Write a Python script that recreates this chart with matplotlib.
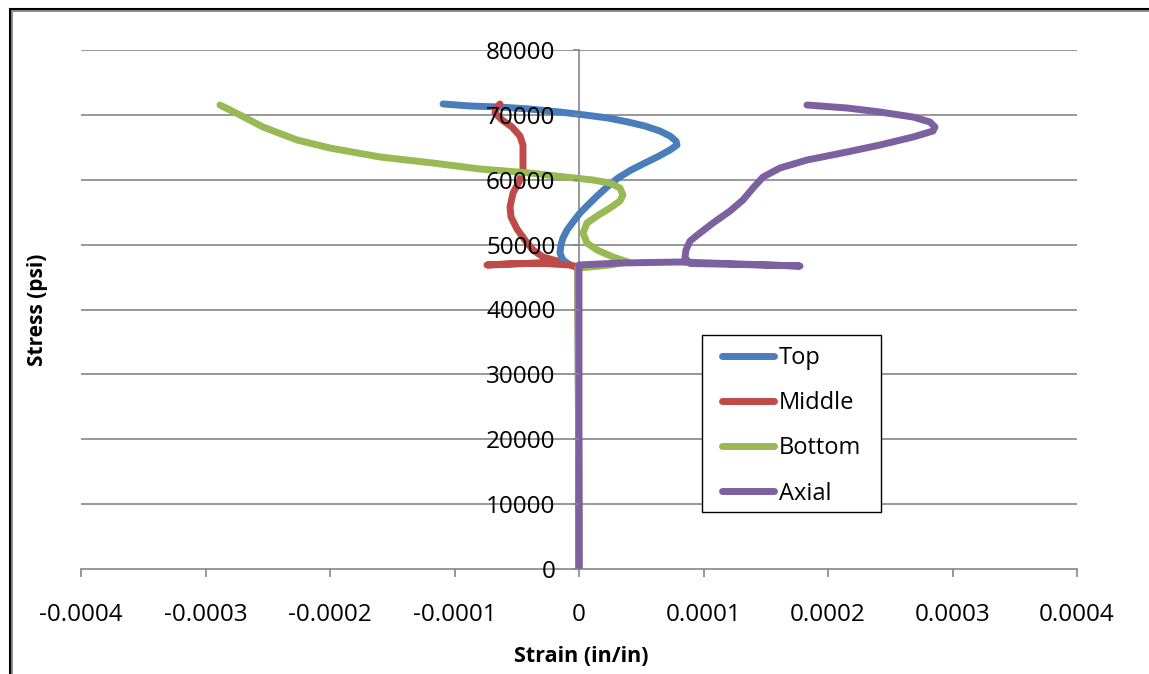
import matplotlib
matplotlib.use("Agg")
import matplotlib.pyplot as plt
from matplotlib.lines import Line2D
from matplotlib.patches import Rectangle
from matplotlib.legend_handler import HandlerLine2D

plt.rcParams['font.family'] = ['Open Sans', 'DejaVu Sans']

# Strain gauge readings (strain in in/in, stress in psi)
top_strain = [0.0, -0.0000008, -0.0000072, -0.0000129, -0.0000153, -0.0000145, -0.0000129,
              -0.0000096, -0.0000048, 0.0000008, 0.0000072, 0.0000145, 0.0000225,
              0.0000313, 0.0000418, 0.000053, 0.0000643, 0.0000731, 0.0000787,
              0.0000779, 0.0000731, 0.000065, 0.000053, 0.0000394, 0.0000233,
              0.0000048, -0.0000153, -0.0000394, -0.0000635, -0.0000875, -0.0001092]
top_stress = [0, 46400, 46860, 47630, 48710, 49940, 51020,
              52250, 53490, 54870, 56110, 57490, 58880,
              60270, 61500, 62580, 63660, 64590, 65360,
              65970, 66740, 67510, 68280, 68900, 69520,
              69980, 70440, 70900, 71210, 71370, 71680]

middle_strain = [0.0, -0.0000008, -0.0000072, -0.0000273, -0.0000514, -0.0000739,
                 -0.0000514, -0.0000273, -0.0000177, -0.0000289, -0.0000369, -0.0000434,
                 -0.0000498, -0.0000546, -0.0000554, -0.000053, -0.0000482, -0.000045,
                 -0.000045, -0.000045, -0.0000474, -0.0000538, -0.0000618, -0.0000675,
                 -0.0000659, -0.0000635]
middle_stress = [0, 46550, 46860, 47090, 47090, 46860,
                 47010, 47240, 47480, 48090, 49170, 50710,
                 52410, 54260, 55800, 57960, 59650, 61500,
                 63510, 65360, 66740, 68130, 69210, 70290,
                 71210, 71680]

bottom_strain = [0.0, -0.0000008, 0.0000088, 0.0000249, 0.0000394, 0.0000273, 0.0000145,
                 0.0000064, 0.0000032, 0.0000064, 0.0000145, 0.0000249, 0.0000329,
                 0.0000353, 0.0000329, 0.0000249, 0.0000112, -0.0000112, -0.0000394,
                 -0.0000795, -0.0001173, -0.0001598, -0.0002, -0.0002265, -0.0002538,
                 -0.0002723, -0.0002884]
bottom_stress = [0, 46400, 46550, 46860, 47320, 48090, 49170,
                 50250, 51790, 53330, 54410, 55640, 56720,
                 57650, 58730, 59500, 59960, 60420, 61040,
                 61660, 62580, 63510, 64890, 66130, 68130,
                 69980, 71520]

axial_strain = [0.0, 0.0, 0.0000329, 0.0000811, 0.0001293, 0.0001775, 0.0001293,
                0.0000892, 0.0000851, 0.0000859, 0.0000892, 0.0000972, 0.0001076,
                0.0001213, 0.0001317, 0.0001398, 0.0001478, 0.0001614, 0.0001831,
                0.0002153, 0.0002418, 0.0002683, 0.0002843, 0.0002859, 0.0002819,
                0.0002683, 0.0002418, 0.0002153, 0.0001831]
axial_stress = [0, 46860, 47170, 47320, 47010, 46700, 46940,
                47090, 47940, 49170, 50560, 51790, 53330,
                55180, 56880, 58730, 60420, 61810, 63040,
                64280, 65360, 66590, 67510, 68130, 68900,
                69670, 70440, 71060, 71520]

series_names = ['Top', 'Middle', 'Bottom', 'Axial']
series_colors = ['#4A7EBB', '#BE4B48', '#98B954', '#7D60A0']

x_ticks = [-0.0004, -0.0003, -0.0002, -0.0001, 0, 0.0001, 0.0002, 0.0003, 0.0004]
x_tick_labels = ['-0.0004', '-0.0003', '-0.0002', '-0.0001', '0',
                 '0.0001', '0.0002', '0.0003', '0.0004']
y_ticks = [0, 10000, 20000, 30000, 40000, 50000, 60000, 70000, 80000]
y_tick_labels = ['0', '10000', '20000', '30000', '40000', '50000', '60000', '70000', '80000']

W, H = 1149, 674
fig = plt.figure(figsize=(W / 100, H / 100), dpi=100)
ax = fig.add_axes([81 / W, 1 - 569 / H, (1077 - 81) / W, (569 - 50) / H])

axis_gray = '#868686'

# Horizontal gridlines sit underneath the curves
for yv in y_ticks[1:]:
    ax.axhline(yv, color=axis_gray, lw=1.2, zorder=0.4)

xs = [top_strain, middle_strain, bottom_strain, axial_strain]
ys = [top_stress, middle_stress, bottom_stress, axial_stress]
for x, y, name, c in zip(xs, ys, series_names, series_colors):
    ax.plot(x, y, color=c, lw=5.0, label=name, solid_capstyle='round',
            solid_joinstyle='round', zorder=2)

ax.set_xlim(-0.0004, 0.0004)
ax.set_ylim(0, 80000)
ax.set_xticks(x_ticks)
ax.set_xticklabels(x_tick_labels)
ax.set_yticks(y_ticks)
ax.set_yticklabels(y_tick_labels)

ax.spines['left'].set_position(('data', 0))
for s in ['top', 'right']:
    ax.spines[s].set_visible(False)
for s in ['left', 'bottom']:
    ax.spines[s].set_color(axis_gray)
    ax.spines[s].set_linewidth(1.2)
    ax.spines[s].set_zorder(0.5)

# Tick labels are drawn over the curves
ax.xaxis.set_zorder(3)
ax.yaxis.set_zorder(3)
ax.tick_params(axis='x', direction='out', length=5.5, width=1.2, color=axis_gray,
               pad=19, labelsize=17.5)
ax.tick_params(axis='y', direction='out', length=4, width=1.2, color=axis_gray,
               pad=13, labelsize=17.5)

# Legend box
ax.add_patch(Rectangle((702 / W, 1 - 512 / H), 179 / W, 177 / H, transform=fig.transFigure,
                       facecolor='white', edgecolor='black', lw=1.0, zorder=4,
                       clip_on=False))
leg = ax.legend(loc='upper left', bbox_to_anchor=(722 / W, 1 - 346 / H),
                bbox_transform=fig.transFigure, fontsize=17, frameon=False,
                handlelength=2.2, handletextpad=0.22, labelspacing=0.9,
                borderpad=0, borderaxespad=0,
                handler_map={Line2D: HandlerLine2D()})
leg.set_zorder(5)
for h in leg.get_lines():
    h.set_linewidth(5.0)
    h.set_solid_capstyle('round')

fig.text(37 / W, 1 - 310 / H, 'Stress (psi)', rotation=90, ha='center', va='center',
         fontsize=15, fontweight='bold')
fig.text(581 / W, 1 - 656 / H, 'Strain (in/in)', ha='center', va='center',
         fontsize=15.5, fontweight='bold')

# Window-style frame on the left and top edges
fig.add_artist(Line2D([9.5 / W, 9.5 / W], [0, 1 - 8.5 / H], color='black', lw=2.2,
                      transform=fig.transFigure))
fig.add_artist(Line2D([9.5 / W, 1], [1 - 8.5 / H, 1 - 8.5 / H], color='black', lw=2.2,
                      transform=fig.transFigure))
fig.add_artist(Line2D([12 / W, 12 / W], [0, 1 - 11 / H], color='#8a8a8a', lw=1.4,
                      transform=fig.transFigure))
fig.add_artist(Line2D([12 / W, 1], [1 - 11 / H, 1 - 11 / H], color='#8a8a8a', lw=1.4,
                      transform=fig.transFigure))

fig.savefig('out.png', dpi=100)
